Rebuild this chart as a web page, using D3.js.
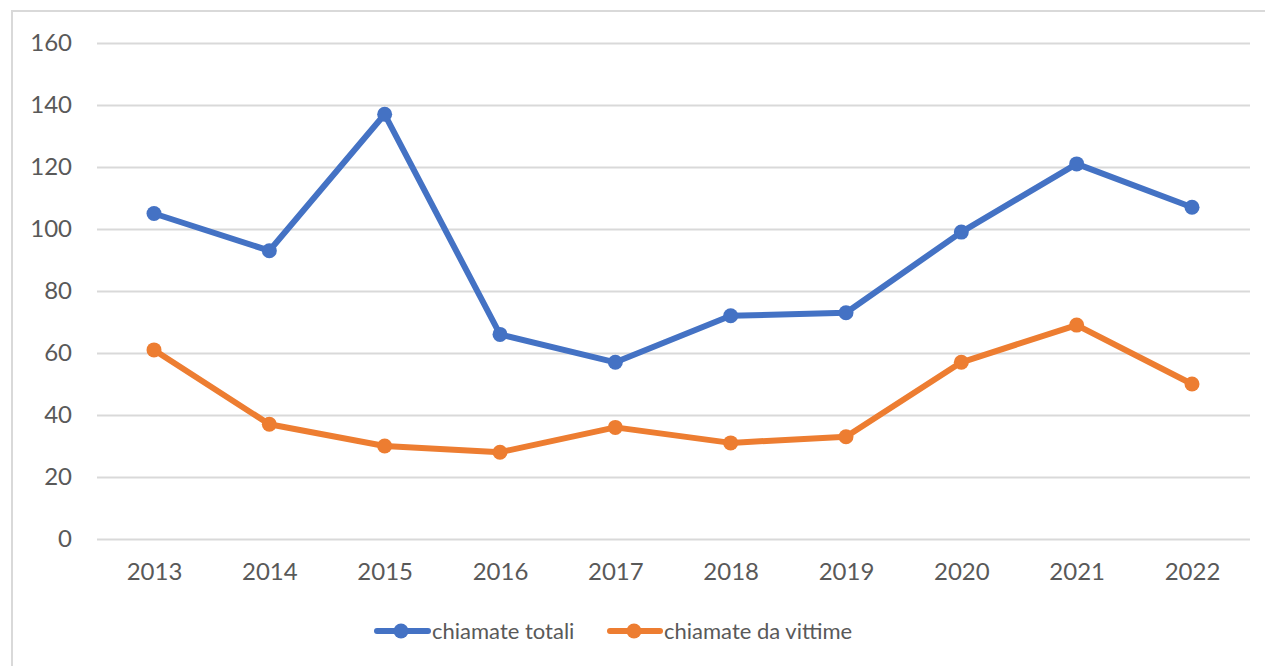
<!DOCTYPE html>
<html><head><meta charset="utf-8">
<script src="https://cdn.jsdelivr.net/npm/d3@7"></script>
<style>body{margin:0;background:#fff;}svg{display:block;font-family:Lato,sans-serif;}</style>
</head><body><svg id="c" width="1265" height="666"></svg>
<script>
const years = ["2013","2014","2015","2016","2017","2018","2019","2020","2021","2022"];
const totali = [105,93,137,66,57,72,73,99,121,107];
const vittime = [61,37,30,28,36,31,33,57,69,50];
const yTicks = [0,20,40,60,80,100,120,140,160];
const seriesNames = ["chiamate totali","chiamate da vittime"];
const colors = ["#4472C4","#ED7D31"];
const FONT = "Lato,sans-serif";

const svg = d3.select("#c");
// outer chart border
svg.append("path").attr("d","M12,666V11H1265").attr("fill","none").attr("stroke","#d9d9d9").attr("stroke-width",2);

const x = d3.scalePoint().domain(years).range([154,1192]);
const y = d3.scaleLinear().domain([0,160]).range([539,43]);

const gy = svg.append("g").attr("transform","translate(97,0)")
  .call(d3.axisLeft(y).tickValues(yTicks).tickSize(-1153).tickPadding(25));
gy.select(".domain").remove();
gy.selectAll(".tick line").attr("stroke","#d9d9d9").attr("stroke-width",2);
gy.selectAll(".tick text").attr("fill","#595959").style("font-size","24px").style("font-family",FONT);

const gx = svg.append("g").attr("transform","translate(0,539)")
  .call(d3.axisBottom(x).tickSize(0).tickPadding(24));
gx.select(".domain").remove();
gx.selectAll(".tick text").attr("fill","#595959").style("font-size","24px").style("font-family",FONT);

const line = d3.line().x((d,i)=>x(years[i])).y(d=>y(d));
[totali,vittime].forEach((s,k)=>{
  svg.append("path").datum(s).attr("d",line).attr("fill","none")
    .attr("stroke",colors[k]).attr("stroke-width",6).attr("stroke-linejoin","round").attr("stroke-linecap","round");
  svg.selectAll(null).data(s).enter().append("circle")
    .attr("cx",(d,i)=>x(years[i])).attr("cy",d=>y(d)).attr("r",7.5).attr("fill",colors[k]);
});

// legend
const leg = [{x0:377,x1:428,cx:401,tx:432},{x0:610,x1:660,cx:634,tx:664}];
leg.forEach((l,k)=>{
  svg.append("line").attr("x1",l.x0).attr("x2",l.x1).attr("y1",631).attr("y2",631)
    .attr("stroke",colors[k]).attr("stroke-width",6).attr("stroke-linecap","round");
  svg.append("circle").attr("cx",l.cx).attr("cy",631).attr("r",7.5).attr("fill",colors[k]);
  svg.append("text").attr("x",l.tx).attr("y",631).attr("dy","0.35em").attr("fill","#595959")
    .style("font-size","22px").style("font-family",FONT).text(seriesNames[k]);
});
</script></body></html>
